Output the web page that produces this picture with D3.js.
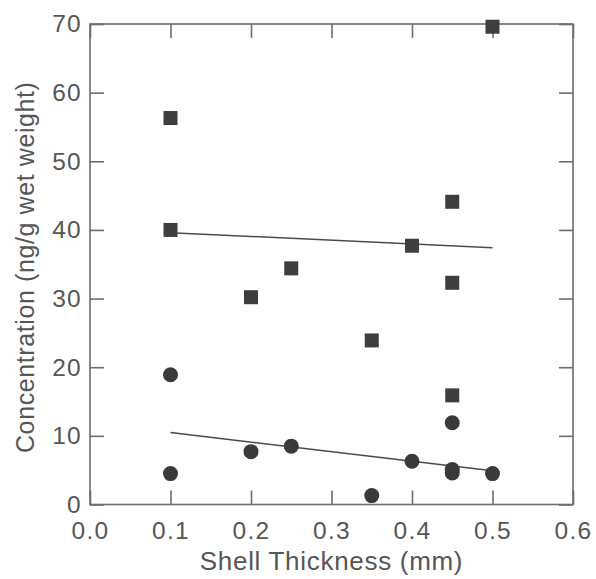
<!DOCTYPE html>
<html>
<head>
<meta charset="utf-8">
<script src="https://cdn.jsdelivr.net/npm/d3@7"></script>
<style>
  html, body { margin: 0; padding: 0; background: #fff; }
  svg { display: block; }
  text { font-family: "Liberation Sans", Arial, Helvetica, sans-serif; fill: #565656; }
</style>
</head>
<body>
<svg id="chart" width="596" height="579"></svg>
<script>
// Shell thickness (mm) vs concentration (ng/g wet weight)
const squareX = [0.10, 0.10, 0.20, 0.25, 0.35, 0.40, 0.45, 0.45, 0.45, 0.50];
const squareY = [56.3, 40.0, 30.2, 34.4, 23.9, 37.7, 44.1, 32.3, 15.9, 69.6];

const circleX = [0.10, 0.10, 0.20, 0.25, 0.35, 0.40, 0.45, 0.45, 0.45, 0.50];
const circleY = [18.9, 4.5, 7.7, 8.5, 1.3, 6.3, 11.9, 5.1, 4.6, 4.5];

// fitted trend lines: endpoints at x = 0.1 and x = 0.5
const trendX = [0.10, 0.50];
const squareTrendY = [39.6, 37.4];
const circleTrendY = [10.5, 4.9];

const xTicks = [0.0, 0.1, 0.2, 0.3, 0.4, 0.5, 0.6];
const yTicks = [0, 10, 20, 30, 40, 50, 60, 70];

const xTitle = "Shell Thickness (mm)";
const yTitle = "Concentration (ng/g wet weight)";

const svg = d3.select("#chart");
const plotLeft = 90, plotRight = 573, plotTop = 24, plotBottom = 504.5;
const axisColor = "#6c6c6c";
const textColor = "#565656";

const x = d3.scaleLinear().domain([0, 0.6]).range([plotLeft, plotRight]);
const y = d3.scaleLinear().domain([0, 70]).range([plotBottom, plotTop]);

// frame
svg.append("rect")
  .attr("x", plotLeft).attr("y", plotTop)
  .attr("width", plotRight - plotLeft).attr("height", plotBottom - plotTop)
  .attr("fill", "none").attr("stroke", axisColor).attr("stroke-width", 1.6);

function styleAxis(g) {
  g.select(".domain").remove();
  g.selectAll(".tick line").attr("stroke", axisColor).attr("stroke-width", 1.6);
  g.selectAll("text")
    .attr("fill", textColor)
    .style("font-size", "24.5px")
    .style("letter-spacing", "1.3px")
    .attr("font-family", null);
}

svg.append("g").attr("transform", `translate(0,${plotBottom})`)
  .call(d3.axisBottom(x).tickValues(xTicks).tickFormat(d3.format(".1f"))
    .tickSizeInner(-14).tickSizeOuter(0).tickPadding(17))
  .call(styleAxis);

svg.append("g").attr("transform", `translate(0,${plotTop})`)
  .call(d3.axisTop(x).tickValues(xTicks).tickFormat("")
    .tickSizeInner(-14).tickSizeOuter(0))
  .call(styleAxis);

svg.append("g").attr("transform", `translate(${plotLeft},0)`)
  .call(d3.axisLeft(y).tickValues(yTicks).tickFormat(d3.format("d"))
    .tickSizeInner(-14).tickSizeOuter(0).tickPadding(8))
  .call(styleAxis);

svg.append("g").attr("transform", `translate(${plotRight},0)`)
  .call(d3.axisRight(y).tickValues(yTicks).tickFormat("")
    .tickSizeInner(-14).tickSizeOuter(0))
  .call(styleAxis);

// axis titles
svg.append("text")
  .attr("x", (plotLeft + plotRight) / 2).attr("y", 570)
  .attr("text-anchor", "middle")
  .style("font-size", "26px").style("letter-spacing", "0.7px")
  .text(xTitle);

svg.append("text")
  .attr("transform", `translate(34,${(plotTop + plotBottom) / 2 + 3}) rotate(-90)`)
  .attr("text-anchor", "middle")
  .style("font-size", "25px").style("letter-spacing", "0.6px")
  .text(yTitle);

// trend lines
const line = d3.line().x(d => x(d[0])).y(d => y(d[1]));
[squareTrendY, circleTrendY].forEach(ty => {
  svg.append("path")
    .datum(trendX.map((v, i) => [v, ty[i]]))
    .attr("d", line)
    .attr("fill", "none")
    .attr("stroke", "#4a4a4a")
    .attr("stroke-width", 1.5);
});

// square markers
const sq = 14;
svg.append("g").selectAll("rect")
  .data(squareX.map((v, i) => [v, squareY[i]]))
  .join("rect")
  .attr("x", d => x(d[0]) - sq / 2)
  .attr("y", d => y(d[1]) - sq / 2)
  .attr("width", sq).attr("height", sq)
  .attr("fill", "#3e3e3e");

// circle markers
svg.append("g").selectAll("circle")
  .data(circleX.map((v, i) => [v, circleY[i]]))
  .join("circle")
  .attr("cx", d => x(d[0]))
  .attr("cy", d => y(d[1]))
  .attr("r", 7.5)
  .attr("fill", "#3a3a3a");
</script>
</body>
</html>
